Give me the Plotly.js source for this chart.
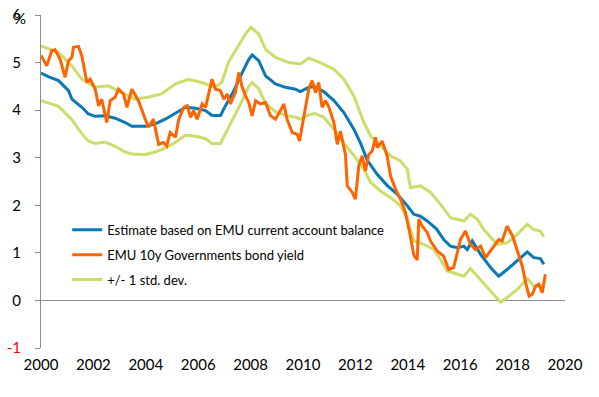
<!DOCTYPE html>
<html>
<head>
<meta charset="utf-8">
<script src="https://cdn.plot.ly/plotly-3.0.1.min.js"></script>
<style>html,body{margin:0;padding:0;background:#fff;}#chart{width:599px;height:397px;}</style>
</head>
<body>
<div id="chart"></div>
<script>
// Estimate based on EMU current account balance
const estYears = [2000.0,2000.3,2000.67,2001.05,2001.18,2001.56,2001.81,2002.07,2002.45,2002.83,2003.21,2003.47,2003.98,2004.36,2004.74,2005.12,2005.52,2005.9,2006.28,2006.53,2006.85,2007.04,2007.36,2007.68,2007.93,2008.06,2008.31,2008.57,2008.95,2009.33,2009.71,2009.9,2010.22,2010.45,2010.79,2011.18,2011.56,2011.94,2012.2,2012.45,2012.83,2013.21,2013.6,2013.98,2014.23,2014.48,2014.74,2015.1,2015.37,2015.63,2015.89,2016.14,2016.27,2016.46,2016.78,2017.16,2017.47,2017.79,2018.18,2018.56,2018.81,2019.06,2019.19];
const estValues = [4.78,4.70,4.62,4.41,4.23,4.06,3.92,3.87,3.88,3.83,3.74,3.66,3.66,3.71,3.81,3.93,4.06,4.04,3.99,3.89,3.89,4.09,4.41,4.79,5.07,5.16,5.04,4.72,4.55,4.48,4.44,4.39,4.48,4.49,4.39,4.20,3.95,3.60,3.30,2.95,2.65,2.42,2.23,1.99,1.81,1.77,1.67,1.50,1.28,1.14,1.11,1.14,1.07,1.25,0.97,0.69,0.51,0.65,0.83,1.02,0.90,0.88,0.76];

// EMU 10y Governments bond yield
const yieldYears = [2000.0,2000.1,2000.22,2000.41,2000.54,2000.73,2000.92,2001.05,2001.18,2001.24,2001.43,2001.56,2001.75,2001.88,2002.07,2002.2,2002.32,2002.51,2002.64,2002.83,2002.96,2003.15,2003.28,2003.47,2003.72,2003.98,2004.1,2004.29,2004.49,2004.67,2004.8,2004.93,2005.13,2005.26,2005.45,2005.58,2005.71,2005.83,2005.96,2006.15,2006.28,2006.41,2006.53,2006.66,2006.85,2006.98,2007.11,2007.23,2007.42,2007.55,2007.68,2007.81,2007.93,2008.06,2008.19,2008.38,2008.57,2008.76,2008.95,2009.14,2009.27,2009.39,2009.59,2009.78,2009.87,2009.97,2010.1,2010.22,2010.35,2010.48,2010.6,2010.73,2010.86,2010.99,2011.18,2011.31,2011.43,2011.62,2011.69,2011.88,2012.0,2012.13,2012.26,2012.38,2012.51,2012.64,2012.77,2012.83,2013.02,2013.21,2013.34,2013.53,2013.72,2013.91,2014.1,2014.23,2014.36,2014.42,2014.55,2014.74,2014.87,2015.12,2015.37,2015.56,2015.75,2015.89,2016.01,2016.2,2016.39,2016.58,2016.78,2016.97,2017.16,2017.35,2017.47,2017.6,2017.79,2018.0,2018.18,2018.37,2018.5,2018.63,2018.75,2018.88,2019.0,2019.13,2019.25];
const yieldValues = [5.15,5.04,4.93,5.25,5.27,5.07,4.69,5.04,5.11,5.32,5.34,5.14,4.58,4.65,4.44,4.09,4.23,3.74,4.20,4.27,4.44,4.34,4.06,4.44,4.20,3.81,3.64,3.81,3.28,3.32,3.25,3.53,3.43,3.81,4.06,4.09,3.85,3.99,3.81,4.13,4.06,4.37,4.65,4.44,4.41,4.23,4.34,4.13,4.37,4.79,4.48,4.30,4.16,3.88,4.20,4.13,4.16,3.88,3.81,3.99,4.13,3.81,3.53,3.49,3.35,3.67,4.06,4.44,4.62,4.37,4.58,4.06,4.20,4.06,3.74,3.28,3.56,3.07,2.41,2.27,2.13,2.83,3.04,2.72,3.07,3.14,3.43,3.21,3.35,3.04,2.62,2.34,2.13,1.85,1.35,0.95,0.85,1.71,1.56,1.43,1.25,1.04,0.93,0.65,0.69,1.00,1.28,1.46,1.18,1.07,1.14,0.90,1.04,1.18,1.28,1.25,1.56,1.35,1.04,0.72,0.37,0.09,0.13,0.30,0.34,0.16,0.55];

// +/- 1 std. dev. bands
const upperYears = [2000.0,2000.67,2001.18,2001.56,2002.07,2002.57,2003.07,2003.58,2004.09,2004.6,2005.12,2005.62,2006.13,2006.64,2006.9,2007.15,2007.53,2007.85,2008.02,2008.31,2008.57,2008.95,2009.46,2009.9,2010.22,2010.48,2011.18,2011.56,2011.94,2012.32,2012.58,2012.96,2013.34,2013.72,2013.98,2014.1,2014.48,2014.87,2015.25,2015.63,2015.89,2016.14,2016.39,2016.65,2016.9,2017.41,2017.79,2018.18,2018.56,2018.81,2019.06,2019.19];
const upperValues = [5.35,5.21,4.93,4.65,4.48,4.51,4.37,4.23,4.27,4.34,4.55,4.65,4.58,4.48,4.58,5.00,5.35,5.64,5.74,5.60,5.28,5.11,5.00,4.97,5.09,5.04,4.86,4.65,4.30,3.74,3.46,3.25,3.04,2.93,2.76,2.37,2.41,2.27,2.02,1.74,1.71,1.67,1.81,1.71,1.49,1.18,1.21,1.39,1.60,1.49,1.46,1.34];
const lowerYears = [2000.0,2000.67,2001.18,2001.56,2001.81,2002.07,2002.45,2002.83,2003.21,2003.47,2003.98,2004.36,2004.74,2005.12,2005.52,2005.9,2006.28,2006.53,2006.85,2007.04,2007.36,2007.68,2007.93,2008.06,2008.31,2008.57,2008.95,2009.33,2009.71,2009.9,2010.22,2010.45,2010.79,2011.18,2011.56,2011.94,2012.32,2012.58,2012.96,2013.34,2013.72,2013.98,2014.23,2014.61,2014.99,2015.25,2015.5,2015.89,2016.14,2016.39,2016.65,2016.9,2017.41,2017.54,2017.79,2018.18,2018.56,2018.81,2019.06,2019.19];
const lowerValues = [4.20,4.08,3.80,3.50,3.35,3.30,3.33,3.24,3.12,3.08,3.07,3.12,3.20,3.32,3.47,3.45,3.40,3.30,3.30,3.50,3.85,4.20,4.50,4.58,4.45,4.14,3.97,3.89,3.85,3.81,3.90,3.93,3.85,3.60,3.30,3.05,2.76,2.48,2.30,2.16,1.99,1.71,1.25,1.18,1.07,0.86,0.62,0.55,0.51,0.67,0.51,0.34,0.02,-0.04,0.06,0.23,0.46,0.30,0.32,0.23];

const xTicks = [2000,2002,2004,2006,2008,2010,2012,2014,2016,2018,2020];
const yTicks = [-1,0,1,2,3,4,5,6];
const yTickText = ['<span style="color:#ff0000">-1</span>','0','1','2','3','4','5','6'];

const FONT = 'Lato, "Open Sans", Arial, sans-serif';
const BLUE = '#0a78b4', ORANGE = '#ff6400', GREEN = '#cddc6a';

const traces = [
  {x: upperYears, y: upperValues, type: 'scatter', mode: 'lines', name: '+/- 1 std. dev.', legendgroup: 'c', legendrank: 3,
   line: {color: GREEN, width: 3}},
  {x: lowerYears, y: lowerValues, type: 'scatter', mode: 'lines', name: '+/- 1 std. dev.', legendgroup: 'c', showlegend: false,
   line: {color: GREEN, width: 3}},
  {x: estYears, y: estValues, type: 'scatter', mode: 'lines', name: 'Estimate based on EMU current account balance', legendgroup: 'a', legendrank: 1,
   line: {color: BLUE, width: 3}},
  {x: yieldYears, y: yieldValues, type: 'scatter', mode: 'lines', name: 'EMU 10y Governments bond yield', legendgroup: 'b', legendrank: 2,
   line: {color: ORANGE, width: 3}}
];

const layout = {
  width: 599, height: 397,
  margin: {l: 41, r: 34, t: 15, b: 49},
  paper_bgcolor: '#fff', plot_bgcolor: '#fff',
  font: {family: FONT, size: 15, color: '#000'},
  showlegend: true,
  legend: {x: 0.05, y: 0.40, xanchor: 'left', yanchor: 'top', bgcolor: 'rgba(0,0,0,0)',
           font: {family: FONT, size: 13, color: '#000'}, traceorder: 'grouped', tracegroupgap: 5},
  xaxis: {range: [2000, 2020], tickmode: 'array', tickvals: xTicks, ticktext: xTicks.map(String),
          showgrid: false, zeroline: false, showline: false, ticks: '', ticklabelstandoff: 6,
          tickfont: {family: FONT, size: 15, color: '#000'}},
  yaxis: {range: [-1, 6], tickmode: 'array', tickvals: yTicks, ticktext: yTickText,
          showgrid: false, zeroline: true, zerolinecolor: '#8c8c8c', zerolinewidth: 1,
          showline: true, linecolor: '#8c8c8c', linewidth: 1, ticks: 'outside', ticklen: 5, tickcolor: '#8c8c8c',
          ticklabelstandoff: 11, tickfont: {family: FONT, size: 15, color: '#000'}},
  annotations: [{text: '%', xref: 'paper', yref: 'paper', x: -0.040, y: 0.992, xanchor: 'center', yanchor: 'middle',
                 showarrow: false, font: {family: FONT, size: 15, color: '#000'}}]
};

Plotly.newPlot('chart', traces, layout, {displayModeBar: false, staticPlot: true});
</script>
</body>
</html>
